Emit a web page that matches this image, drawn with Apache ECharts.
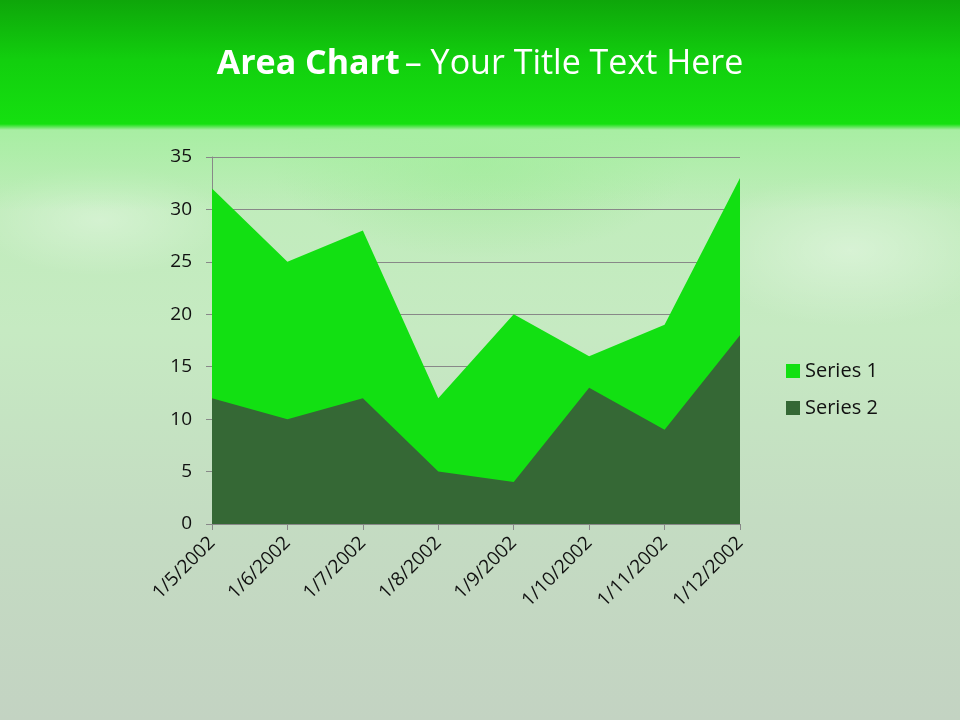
<!DOCTYPE html>
<html>
<head>
<meta charset="utf-8">
<script src="https://cdn.jsdelivr.net/npm/echarts@6/dist/echarts.min.js"></script>
<style>
html,body{margin:0;padding:0;width:960px;height:720px;overflow:hidden;}
#bg{position:absolute;left:0;top:0;width:960px;height:720px;
background:
 linear-gradient(180deg,#0ea60a 0px,#12cf0e 60px,#15e010 124px,#a8eea3 130px,rgba(180,240,175,0) 210px),
 radial-gradient(ellipse 220px 110px at 850px 250px,rgba(255,255,255,0.35),rgba(255,255,255,0) 70%),
 radial-gradient(ellipse 180px 80px at 100px 220px,rgba(255,255,255,0.3),rgba(255,255,255,0) 70%),
 radial-gradient(ellipse 300px 140px at 480px 160px,rgba(120,230,110,0.35),rgba(120,230,110,0) 70%),
 linear-gradient(180deg,#bdeeb8 128px,#c6eac2 330px,#c4dcc2 520px,#c3d3c2 720px);}
#chart{position:absolute;left:0;top:0;width:960px;height:720px;}
</style>
</head>
<body>
<div id="bg"></div>
<div id="chart"></div>
<script>
var categories = ["1/5/2002","1/6/2002","1/7/2002","1/8/2002","1/9/2002","1/10/2002","1/11/2002","1/12/2002"];
var series1 = [32, 25, 28, 12, 20, 16, 19, 33];
var series2 = [12, 10, 12, 5, 4, 13, 9, 18];
var seriesNames = ["Series 1", "Series 2"];

var chart = echarts.init(document.getElementById('chart'), null, {renderer:'canvas'});
var font = "'Open Sans', 'Noto Sans', sans-serif";
chart.setOption({
  backgroundColor: 'transparent',
  animation: false,
  title: {
    text: '{b|Area Chart} {r|– Your Title Text Here}',
    left: 'center',
    top: 42,
    textStyle: {
      rich: {
        b: {fontFamily: font, fontWeight: 'bold', fontSize: 34, color: '#ffffff'},
        r: {fontFamily: font, fontWeight: 'normal', fontSize: 34, color: '#ffffff'}
      }
    }
  },
  legend: {
    orient: 'vertical',
    left: 781,
    top: 356,
    itemWidth: 14,
    itemHeight: 14,
    itemGap: 17,
    icon: 'rect',
    textStyle: {fontFamily: font, fontSize: 20, color: '#111'},
    data: seriesNames
  },
  grid: {left: 212, right: 220, top: 157, bottom: 196, containLabel: false},
  xAxis: {
    type: 'category',
    boundaryGap: false,
    data: categories,
    axisLine: {lineStyle: {color: '#888888', width: 1}},
    axisTick: {show: true, alignWithLabel: true, length: 6, lineStyle: {color: '#888888'}},
    axisLabel: {rotate: 45, fontFamily: font, fontSize: 19, color: '#111', margin: 16, interval: 0},
    splitLine: {show: false}
  },
  yAxis: {
    type: 'value',
    min: 0, max: 35, interval: 5,
    axisLine: {show: true, lineStyle: {color: '#888888', width: 1}},
    axisTick: {show: true, length: 6, lineStyle: {color: '#888888'}},
    axisLabel: {fontFamily: font, fontSize: 19, color: '#111', margin: 20},
    splitLine: {show: true, lineStyle: {color: '#888888', width: 1}}
  },
  series: [
    {name: seriesNames[0], type: 'line', data: series1, symbol: 'none', z: 2,
     itemStyle: {color: '#12e012'}, lineStyle: {width: 0},
     areaStyle: {color: '#12e012', opacity: 1}},
    {name: seriesNames[1], type: 'line', data: series2, symbol: 'none', z: 3,
     itemStyle: {color: '#356835'}, lineStyle: {width: 0},
     areaStyle: {color: '#356835', opacity: 1}}
  ]
});
</script>
</body>
</html>
